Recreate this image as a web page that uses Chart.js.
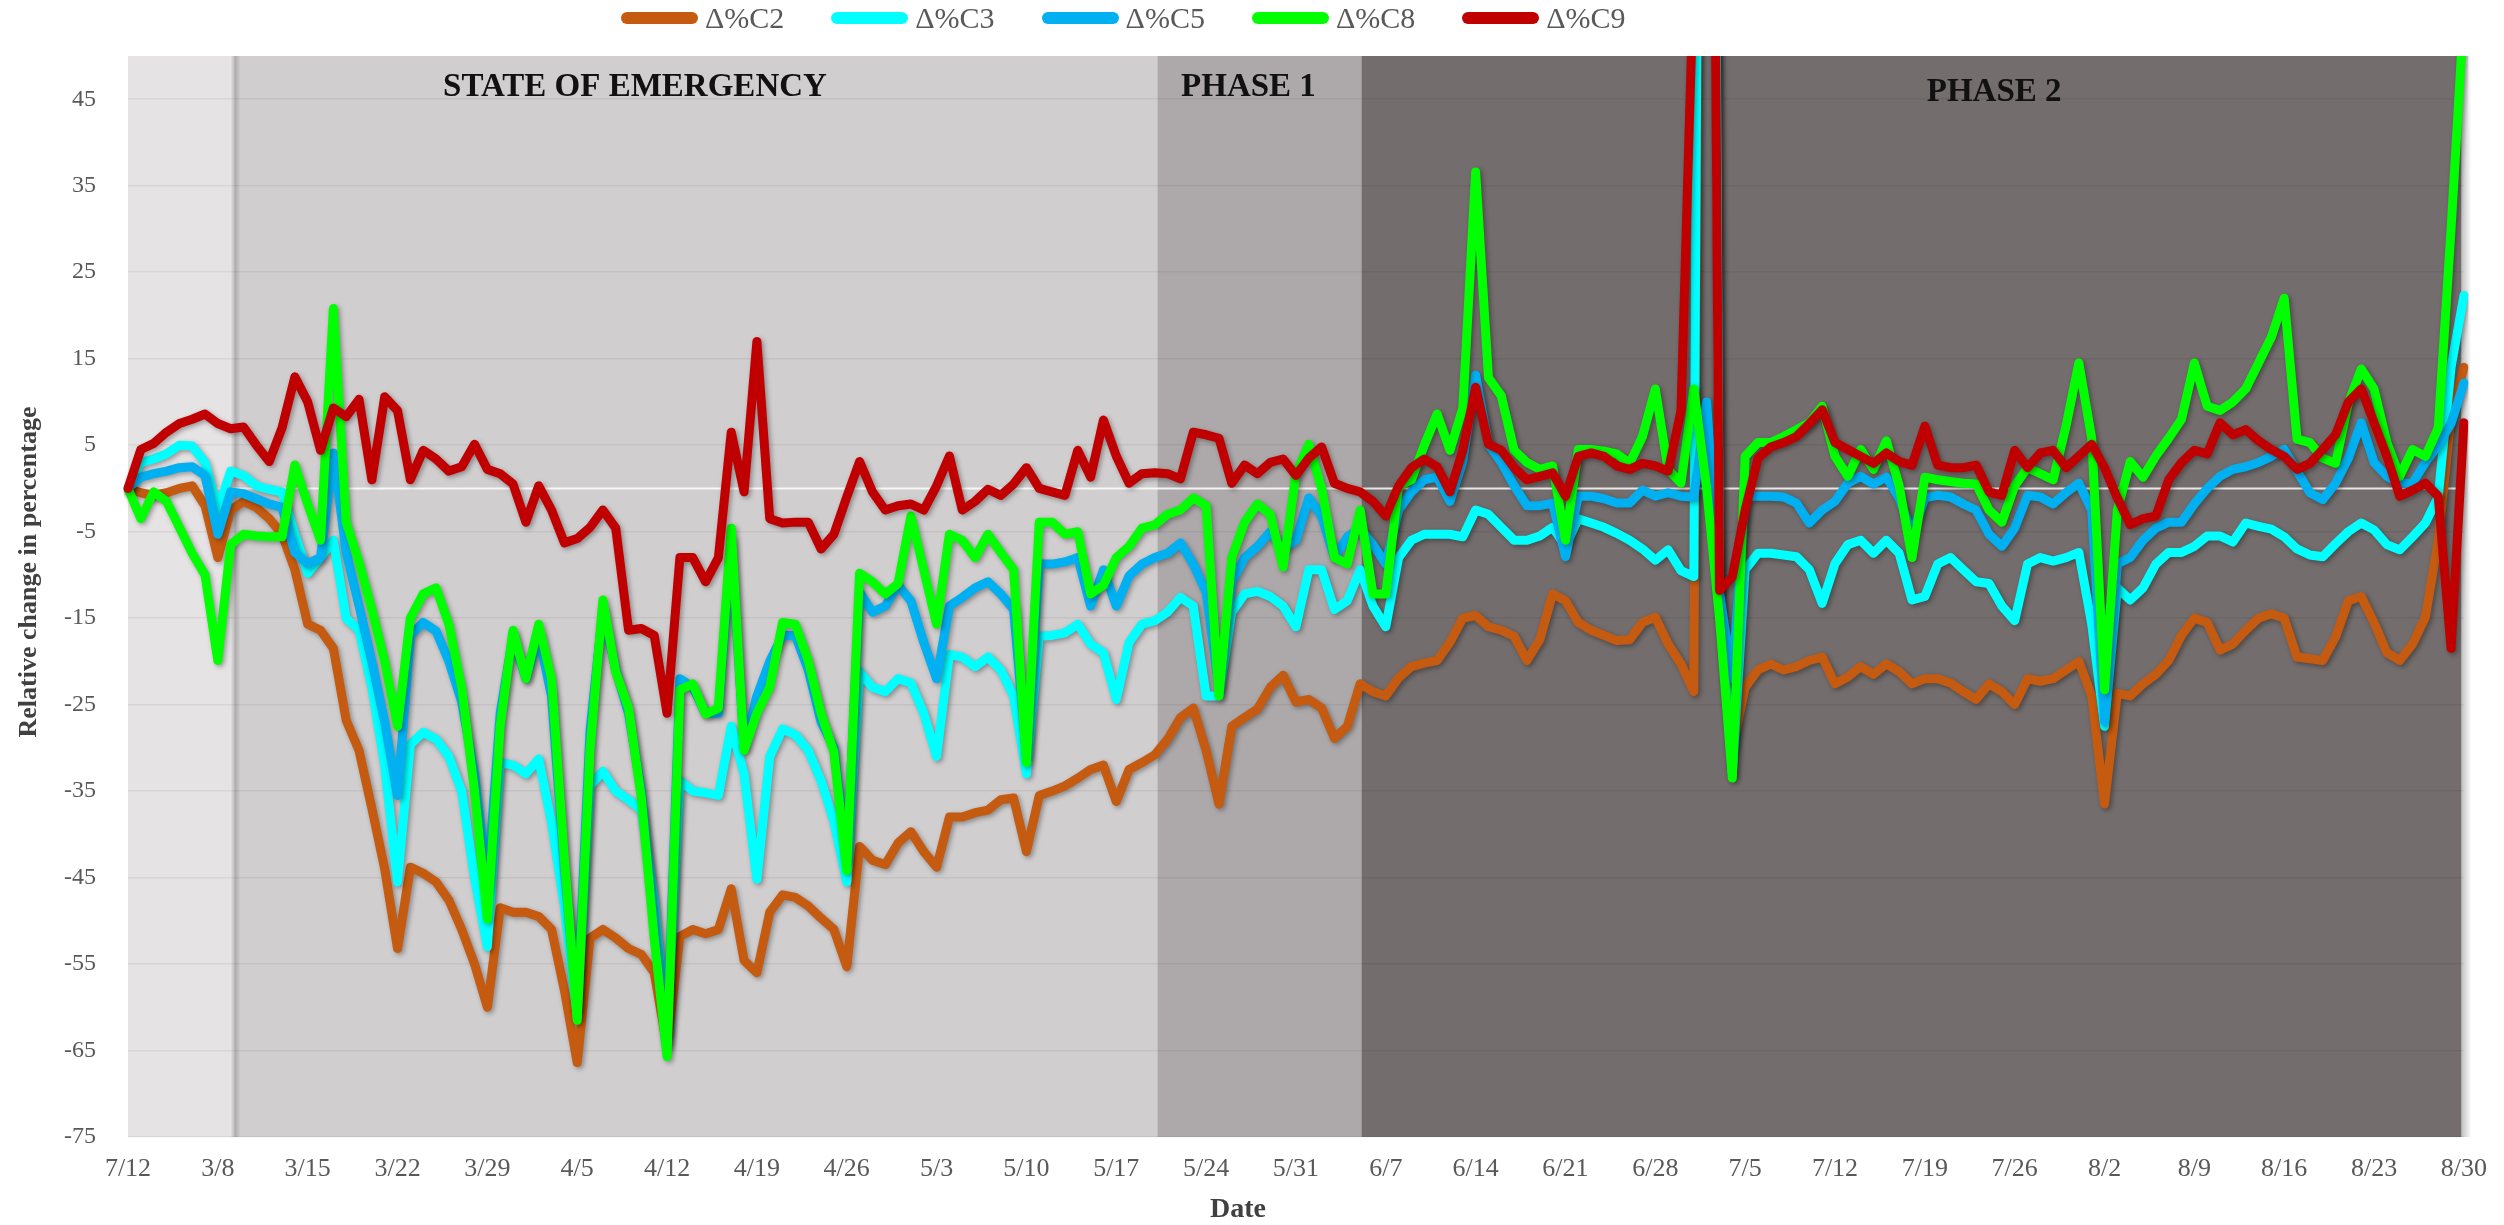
<!DOCTYPE html>
<html>
<head>
<meta charset="utf-8">
<script src="https://cdn.jsdelivr.net/npm/chart.js@4.4.1/dist/chart.umd.min.js"></script>
<style>
  html, body { margin: 0; padding: 0; background: #fff; overflow: hidden; }
  #wrap { position: relative; width: 2504px; height: 1225px; }
  #legend { position: absolute; left: 621px; top: 0; height: 36px; display: flex; align-items: center;
            font-family: "Liberation Serif", serif; font-size: 30px; color: #595959; }
  .item { display: flex; align-items: center; margin-right: 47px; }
  .swatch { width: 77px; height: 12px; border-radius: 6px; margin-right: 7px; }
</style>
</head>
<body>
<div id="wrap">
  <canvas id="chart"></canvas>
  <div id="legend"></div>
</div>
<script>
const tickLabels = ["7/12", "3/8", "3/15", "3/22", "3/29", "4/5", "4/12", "4/19", "4/26", "5/3", "5/10", "5/17", "5/24",
  "5/31", "6/7", "6/14", "6/21", "6/28", "7/5", "7/12", "7/19", "7/26", "8/2", "8/9", "8/16", "8/23", "8/30"];
const yTicks = [-75, -65, -55, -45, -35, -25, -15, -5, 5, 15, 25, 35, 45];
const seriesNames = ["\u0394%C2", "\u0394%C3", "\u0394%C5", "\u0394%C8", "\u0394%C9"];

// one category per day, 3/1 .. 8/30
const monthLengths = [[3, 31], [4, 30], [5, 31], [6, 30], [7, 31], [8, 30]];
const days = [];
monthLengths.forEach(([m, n]) => { for (let d = 1; d <= n; d++) days.push(m + "/" + d); });

const c2 = [0, -0.5, -0.8, -0.5, 0, 0.3, -2,
  -8, -2.5, -1.5, -2.2, -3.5, -5.3, -9.4,
  -15.7, -16.4, -18.5, -26.8, -30.3, -37, -44,
  -53.2, -43.8, -44.5, -45.5, -47.6, -51, -55,
  -60, -48.5, -49, -49, -49.5, -51, -58,
  -66.4, -52, -51, -52, -53.2, -53.9, -56,
  -64.5, -51.8, -51, -51.5, -51, -46.3, -54.6,
  -56, -49, -47, -47.3, -48.3, -49.7, -51,
  -55.3, -41.4, -43, -43.5, -41, -39.7, -42,
  -43.8, -38, -38, -37.5, -37.2, -36, -35.8,
  -42, -35.5, -35, -34.4, -33.5, -32.5, -32,
  -36.2, -32.5, -31.7, -30.8, -29, -26.5, -25.4,
  -30.3, -36.5, -27.5, -26.5, -25.5, -23, -21.6,
  -24.7, -24.4, -25.4, -28.9, -27.5, -22.6, -23.5,
  -24, -21.9, -20.6, -20.2, -19.9, -17.8, -15,
  -14.7, -16, -16.4, -17.1, -19.9, -17.5, -12.2,
  -13, -15.5, -16.4, -17, -17.6, -17.5, -15.5,
  -14.9, -18, -20.3, -23.5, 250, -15, -30,
  -23, -21, -20.3, -21, -20.6, -19.9, -19.5,
  -22.6, -21.8, -20.6, -21.5, -20.3, -21.2, -22.6,
  -22, -22, -22.5, -23.5, -24.4, -22.6, -23.5,
  -25, -22, -22.3, -22, -21, -20, -24,
  -36.5, -23.7, -24, -22.6, -21.5, -19.9, -17,
  -15, -15.5, -18.7, -18, -16.4, -15, -14.5,
  -15, -19.5, -19.7, -19.9, -17.2, -13, -12.5,
  -15.5, -19, -19.9, -18, -14.9, -6, 8.4,
  14];

const c3 = [0, 3, 3.4, 4, 5, 4.9, 3,
  -2.5, 2, 1.5, 0.3, -0.1, -0.4, -5.3,
  -9.8, -8, -6, -15, -16.4, -23, -32,
  -45.5, -29.6, -28.2, -29, -31, -35, -45,
  -53, -31.7, -32, -33, -31.3, -38.6, -48.3,
  -61, -34.4, -32.7, -35, -36, -37.2, -47.6,
  -63, -33.8, -35, -35.2, -35.5, -27.5, -33,
  -45.2, -31, -27.8, -28.5, -30.3, -33.8, -38.5,
  -45.5, -21.2, -23, -23.5, -22, -22.5, -26,
  -31, -19.2, -19.5, -20.6, -19.5, -21, -24,
  -33, -17.1, -17, -16.7, -15.7, -18, -19,
  -24.4, -17.8, -15.7, -15.3, -14.3, -12.6, -13.6,
  -24, -24, -14.3, -12.2, -11.9, -12.5, -13.6,
  -16, -9.4, -9.4, -14, -13, -9.4, -13.6,
  -16, -8, -6, -5.3, -5.3, -5.3, -5.6,
  -2.5, -3, -4.5, -6, -6, -5.5, -4.5,
  -6.7, -3.5, -4, -4.5, -5.2, -6, -7,
  -8.3, -7.1, -9.5, -10.2, 250, -12, -33,
  -9.4, -7.5, -7.5, -7.7, -7.9, -9.4, -13.3,
  -8.7, -6.5, -6, -7.5, -6, -7.5, -12.9,
  -12.5, -8.75, -8, -9.4, -10.8, -11, -13.6,
  -15.3, -8.75, -8, -8.4, -8, -7.4, -15.7,
  -27.5, -11.5, -12.9, -11.5, -8.75, -7.4, -7.4,
  -6.7, -5.5, -5.5, -6.2, -4, -4.4, -4.7,
  -5.6, -7, -7.7, -7.9, -6.4, -5, -4,
  -4.8, -6.5, -7.1, -5.6, -4, -1, 14,
  22.3];

const c5 = [0, 1.3, 1.7, 2, 2.4, 2.5, 1.5,
  -5.3, -0.4, -0.6, -1.2, -1.8, -2.2, -7.4,
  -8.7, -8, 4.1, -7.4, -13.6, -20, -27,
  -35.5, -17, -15.5, -16.5, -20, -24.7, -33,
  -46, -26, -17, -22, -17, -24, -44,
  -60, -28, -14, -21, -26, -35, -50,
  -64, -22, -23, -26, -26, -6, -30,
  -24, -20, -17, -17, -21, -27, -30,
  -43, -12, -14.3, -13.6, -11.2, -13, -17.8,
  -22, -13.6, -12.6, -11.5, -10.8, -12.2, -14,
  -31, -8.75, -8.75, -8.5, -8, -13.6, -9.4,
  -13.6, -10.1, -8.75, -8, -7.5, -6.3, -8.75,
  -12, -23, -10.8, -8, -6.7, -5, -7,
  -6, -1.1, -3.2, -8, -5.6, -4.6, -6.5,
  -8.75, -2.5, -0.4, 1, 1.3, -1.5, 3.1,
  13.1, 5.1, 3, 0.3, -2, -2, -1.7,
  -7.9, -0.9, -0.9, -1.2, -1.7, -1.7, -0.2,
  -0.9, -0.5, -0.9, -1, 10, -12, -22,
  -0.9, -0.9, -0.9, -1, -1.7, -4, -2.5,
  -1.5, 0.6, 1.4, 0.5, 1.3, -1.1, -5.3,
  -1.1, -0.8, -1, -1.8, -2.5, -5.3, -6.7,
  -4.6, -0.8, -1, -1.8, -0.5, 0.6, -2.5,
  -27, -8.75, -8, -6, -4.6, -3.9, -3.9,
  -1.8, 0, 1.4, 2.2, 2.5, 3, 3.7,
  4.5, 2, -0.5, -1.3, 0.6, 3.5, 7.6,
  3, 1.4, 0.6, 0.6, 3, 5, 7.5,
  12.2];

const c8 = [0, -3.5, -0.4, -1.5, -4.5, -7.5, -10,
  -19.9, -6.5, -5.3, -5.5, -5.6, -5.6, 2.7,
  -1.8, -6, 20.8, -3.9, -8.5, -14, -20,
  -27.5, -15, -12.2, -11.5, -15.7, -23, -35,
  -49.8, -27.5, -16.4, -22, -15.7, -22, -42.8,
  -61.5, -30.3, -12.9, -21.2, -25.4, -35.8, -52,
  -65.7, -23.3, -22.6, -26.1, -25.4, -4.6, -30.3,
  -26, -23, -15.5, -15.7, -19.9, -26, -30.5,
  -44.2, -9.8, -10.8, -12.2, -11, -3.2, -9.4,
  -15.7, -5.3, -6, -8, -5.3, -7.4, -9.4,
  -31.7, -3.9, -3.9, -5.3, -5, -12.2, -11.2,
  -8, -6.7, -4.6, -4.2, -3, -2.5, -1.1,
  -2, -24, -8, -3.9, -1.8, -3, -9.1,
  1.7, 5.1, 0, -8, -8.75, -2.5, -12.2,
  -12.2, 0.3, 1, 5, 8.6, 4.4, 9.3,
  36.6, 12.8, 10.7, 4.4, 3, 2.2, 2.6,
  -6, 4.5, 4.5, 4.3, 4, 2.9, 6,
  11.5, 2.2, 0.6, 11.5, 0, -15, -33.5,
  3.7, 5.3, 5.3, 6, 6.8, 7.6, 9.5,
  3.7, 1.4, 4.5, 2.2, 5.5, 0.3, -8,
  1.3, 1, 0.8, 0.6, 0.5, -2.5, -3.9,
  0.3, 2.4, 1.7, 1, 7.2, 14.5, 5.8,
  -23.3, -2.5, 3.1, 1.3, 3.75, 5.8, 8,
  14.5, 9.5, 9, 10, 11.5, 14.5, 17.5,
  22, 5.7, 5.3, 3.5, 2.9, 9.9, 13.8,
  11.5, 5.3, 1.4, 4.5, 3.7, 7, 30,
  55];

const c9 = [0, 4.5, 5.2, 6.5, 7.5, 8, 8.6,
  7.5, 6.9, 7.1, 5, 3.1, 7, 12.9,
  10, 4.4, 9.3, 8.3, 10.3, 1, 10.6,
  9, 1, 4.4, 3.4, 2, 2.5, 5.1,
  2.2, 1.7, 0.5, -3.9, 0.3, -2.5, -6.3,
  -5.8, -4.5, -2.5, -4.6, -16.4, -16.2, -17,
  -26, -8, -8, -10.8, -8, 6.5, -0.4,
  17, -3.5, -4, -3.9, -3.9, -7, -5.3,
  -1, 3.1, -0.4, -2.5, -2, -1.8, -2.5,
  0.3, 3.75, -2.5, -1.5, -0.1, -0.8, 0.5,
  2.4, 0, -0.4, -0.8, 4.4, 1.3, 7.9,
  3.75, 0.6, 1.7, 1.8, 1.7, 1.1, 6.5,
  6.2, 5.8, 0.6, 2.7, 1.7, 3, 3.4,
  1.5, 3.5, 4.8, 0.6, 0, -0.4, -1.5,
  -3.2, 0.3, 2.4, 3.4, 2.5, -0.4, 4.4,
  11.7, 5.1, 4.4, 2.4, 1, 1.4, 1.8,
  -0.9, 3.7, 4.1, 3.7, 2.6, 2.2, 2.9,
  2.6, 2, 9, 60, 200, -11.8, -10.2,
  -2.5, 3.5, 4.8, 5.3, 6, 7.5, 9.1,
  5.3, 4.5, 3.7, 2.9, 4.1, 3.1, 2.7,
  7.2, 2.7, 2.4, 2.4, 2.7, -0.4, -0.8,
  4.4, 2.4, 4.1, 4.4, 2.4, 3.75, 5.1,
  2.4, -1.1, -4.2, -3.5, -3.2, 1, 3,
  4.4, 4, 7.6, 6.2, 6.8, 5.5, 4.5,
  3.7, 2.2, 2.9, 4.5, 6.2, 10, 11.5,
  7.6, 3.7, -0.9, -0.2, 0.6, -0.9, -18.5,
  7.6];

// shaded periods, in day index along the x axis
const phaseNames = ["", "STATE OF EMERGENCY", "PHASE 1", "PHASE 2"];
const phaseFrom = [0, 8.3, 80.2, 96.1];
const phaseTo = [8.3, 80.2, 96.1, 181.8];
const phaseLabelAt = [0, 39.5, 87.3, 145.4];

const SERIF = "'Liberation Serif', 'Times New Roman', serif";
const COLORS = ["#c55a11", "#00ffff", "#00b0f0", "#00ff00", "#c00000"];
const PHASE_FILL = ["#e5e3e4", "#d0cecf", "#ada9aa", "#736d6d"];

const legendEl = document.getElementById("legend");
seriesNames.forEach((name, i) => {
  const item = document.createElement("div");
  item.className = "item";
  item.innerHTML = `<span class="swatch" style="background:${COLORS[i]}"></span><span>${name}</span>`;
  legendEl.appendChild(item);
});

const phasePlugin = {
  id: "phases",
  beforeDraw(chart) {
    const { ctx, chartArea: a, scales: { x } } = chart;
    ctx.save();
    phaseFrom.forEach((from, i) => {
      const x0 = x.getPixelForValue(from);
      const x1 = x.getPixelForValue(phaseTo[i]);
      ctx.fillStyle = PHASE_FILL[i];
      ctx.fillRect(x0, a.top, x1 - x0, a.bottom - a.top);
    });
    // soft edge where the emergency starts
    const xe = x.getPixelForValue(phaseFrom[1]);
    const g = ctx.createLinearGradient(xe - 4, 0, xe + 6, 0);
    g.addColorStop(0, "rgba(0,0,0,0.0)");
    g.addColorStop(0.4, "rgba(0,0,0,0.18)");
    g.addColorStop(1, "rgba(0,0,0,0.0)");
    ctx.fillStyle = g;
    ctx.fillRect(xe - 4, a.top, 10, a.bottom - a.top);
    // shadow right of the last period
    const xr = x.getPixelForValue(phaseTo[3]);
    const g2 = ctx.createLinearGradient(xr, 0, xr + 10, 0);
    g2.addColorStop(0, "rgba(0,0,0,0.25)");
    g2.addColorStop(1, "rgba(0,0,0,0)");
    ctx.fillStyle = g2;
    ctx.fillRect(xr, a.top, 10, a.bottom - a.top);
    ctx.restore();
  },
  beforeDatasetsDraw(chart) {
    const { ctx, chartArea: a, scales: { x, y } } = chart;
    ctx.save();
    const y0 = y.getPixelForValue(0);
    ctx.strokeStyle = "rgba(255,255,255,0.85)";
    ctx.lineWidth = 2;
    ctx.beginPath();
    ctx.moveTo(a.left, y0);
    ctx.lineTo(x.getPixelForValue(phaseTo[3]), y0);
    ctx.stroke();

    ctx.fillStyle = "#111";
    ctx.font = "bold 33px " + SERIF;
    ctx.textAlign = "center";
    ctx.textBaseline = "middle";
    phaseNames.forEach((name, i) => {
      if (!name) return;
      ctx.fillText(name, x.getPixelForValue(phaseLabelAt[i]), a.top + (i === 3 ? 36 : 31));
    });
    ctx.restore();
  },
  beforeDatasetDraw(chart) {
    const ctx = chart.ctx;
    ctx.save();
    ctx.shadowColor = "rgba(0,0,0,0.35)";
    ctx.shadowBlur = 5;
    ctx.shadowOffsetX = 2;
    ctx.shadowOffsetY = 2;
  },
  afterDatasetDraw(chart) {
    chart.ctx.restore();
  },
  afterDraw(chart) {
    const { ctx } = chart;
    ctx.save();
    ctx.fillStyle = "#404040";
    ctx.textAlign = "center";
    ctx.textBaseline = "middle";
    ctx.font = "bold 28px " + SERIF;
    ctx.fillText("Date", 1238, 1210);
    ctx.translate(29, 572);
    ctx.rotate(-Math.PI / 2);
    ctx.font = "bold 26px " + SERIF;
    ctx.fillText("Relative change in percentage", 0, 0);
    ctx.restore();
  }
};

const seriesData = [c2, c3, c5, c8, c9];

new Chart(document.getElementById("chart"), {
  type: "line",
  data: {
    labels: days,
    datasets: seriesData.map((d, i) => ({
      label: seriesNames[i],
      data: d,
      borderColor: COLORS[i],
      backgroundColor: COLORS[i],
      order: 5 - i,
    })),
  },
  options: {
    responsive: true,
    maintainAspectRatio: false,
    animation: false,
    events: [],
    layout: { padding: { top: 56, right: 37, left: 0, bottom: 0 } },
    elements: {
      point: { radius: 0 },
      line: { tension: 0, borderWidth: 9, borderJoinStyle: "round", borderCapStyle: "round" },
    },
    plugins: { legend: { display: false }, tooltip: { enabled: false } },
    scales: {
      x: {
        grid: { display: false, drawTicks: false },
        border: { display: false },
        ticks: {
          autoSkip: false,
          maxRotation: 0,
          padding: 17,
          color: "#595959",
          font: { family: SERIF, size: 26 },
          callback: (v, i) => (i % 7 === 0 ? tickLabels[i / 7] : null),
        },
        afterFit: (s) => { s.height = 88; },
      },
      y: {
        min: -75,
        max: 50,
        afterBuildTicks: (s) => { s.ticks = yTicks.map((v) => ({ value: v })); },
        grid: { color: "rgba(0,0,0,0.06)", lineWidth: 1.5, drawTicks: false },
        border: { display: false },
        ticks: { padding: 32, color: "#595959", font: { family: SERIF, size: 24 } },
        afterFit: (s) => { s.width = 128; },
      },
    },
  },
  plugins: [phasePlugin],
});
</script>
</body>
</html>
